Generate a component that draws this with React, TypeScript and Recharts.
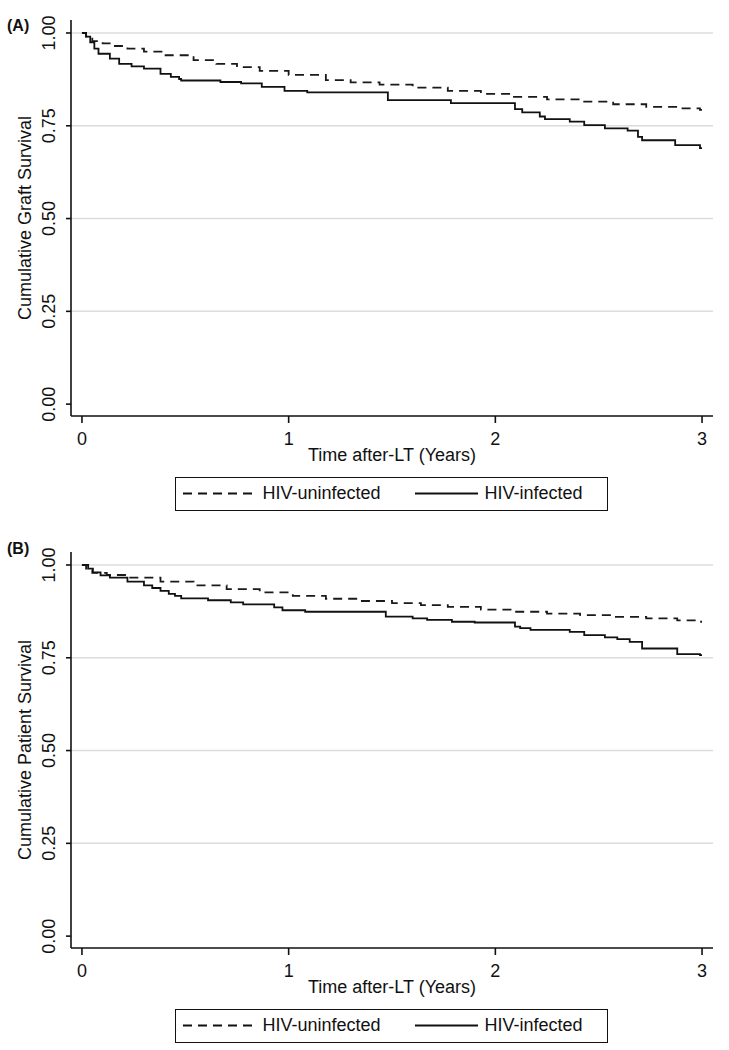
import React from "react";
import { LineChart, Line, XAxis, YAxis, ReferenceLine, Label } from "recharts";

// axis ticks / gridlines
const xTicks = [0, 1, 2, 3];
const yTicks = [0, 0.25, 0.5, 0.75, 1];
const gridValues = [0.25, 0.5, 0.75, 1];
const yTickLabels = ["0.00", "0.25", "0.50", "0.75", "1.00"];

// (A) graft survival, HIV-uninfected (dashed)
const graftUninfT = [0, 0.02, 0.05, 0.1, 0.15, 0.22, 0.3, 0.4, 0.54, 0.65, 0.75, 0.86, 1.0, 1.18, 1.3, 1.44, 1.6, 1.77, 1.93, 2.09, 2.25, 2.41, 2.57, 2.73, 2.88, 2.99, 3.0];
const graftUninfS = [1.0, 0.99, 0.978, 0.972, 0.965, 0.958, 0.95, 0.94, 0.927, 0.917, 0.908, 0.898, 0.887, 0.873, 0.867, 0.861, 0.853, 0.844, 0.836, 0.828, 0.821, 0.815, 0.808, 0.801, 0.797, 0.793, 0.793];

// (A) graft survival, HIV-infected (solid)
const graftInfT = [0, 0.02, 0.04, 0.06, 0.08, 0.135, 0.18, 0.24, 0.3, 0.38, 0.43, 0.47, 0.48, 0.67, 0.77, 0.87, 0.98, 1.09, 1.48, 1.785, 2.095, 2.13, 2.215, 2.24, 2.36, 2.43, 2.53, 2.64, 2.69, 2.71, 2.87, 2.99, 3.0];
const graftInfS = [1.0, 0.99, 0.975, 0.958, 0.944, 0.931, 0.917, 0.91, 0.904, 0.89, 0.882, 0.876, 0.872, 0.868, 0.864, 0.855, 0.844, 0.84, 0.819, 0.811, 0.795, 0.786, 0.775, 0.768, 0.761, 0.752, 0.743, 0.737, 0.72, 0.711, 0.698, 0.69, 0.69];

// (B) patient survival, HIV-uninfected (dashed)
const patientUninfT = [0, 0.02, 0.05, 0.12, 0.22, 0.38, 0.54, 0.7, 0.86, 1.02, 1.18, 1.34, 1.5, 1.64, 1.77, 1.93, 2.09, 2.25, 2.41, 2.57, 2.73, 2.88, 2.99, 3.0];
const patientUninfS = [1.0, 0.99, 0.979, 0.973, 0.966, 0.955, 0.945, 0.935, 0.926, 0.917, 0.909, 0.903, 0.897, 0.892, 0.887, 0.88, 0.874, 0.869, 0.865, 0.86, 0.856, 0.851, 0.847, 0.847];

// (B) patient survival, HIV-infected (solid)
const patientInfT = [0, 0.03, 0.053, 0.09, 0.135, 0.22, 0.3, 0.34, 0.38, 0.42, 0.45, 0.48, 0.61, 0.72, 0.78, 0.93, 0.97, 1.08, 1.47, 1.6, 1.67, 1.79, 1.9, 2.095, 2.12, 2.17, 2.36, 2.43, 2.53, 2.59, 2.65, 2.71, 2.88, 2.99, 3.0];
const patientInfS = [1.0, 0.99, 0.98, 0.972, 0.966, 0.955, 0.945, 0.938, 0.93, 0.922, 0.917, 0.91, 0.905, 0.899, 0.894, 0.886, 0.878, 0.874, 0.861, 0.856, 0.852, 0.847, 0.845, 0.834, 0.83, 0.825, 0.82, 0.811, 0.805, 0.8, 0.793, 0.775, 0.76, 0.757, 0.757];

const zip = (t: number[], s: number[]) => t.map((v, i) => ({ t: v, s: s[i] }));

const FONT = "'Liberation Sans', Arial, Helvetica, sans-serif";
const INK = "#111";
const DASH = "9 6";
const FS = 18;

const XTick = ({ x, y, payload }: any) => (
  <text x={x} y={y + 14} textAnchor="middle" dominantBaseline="central" fontSize={FS} fontFamily={FONT} fill={INK}>
    {payload.value}
  </text>
);

const YTick = ({ x, y, payload }: any) => {
  const cx = x - 15;
  const idx = yTicks.indexOf(payload.value);
  return (
    <text x={cx} y={y} transform={`rotate(-90, ${cx}, ${y})`} textAnchor="middle" dominantBaseline="central" fontSize={FS} fontFamily={FONT} fill={INK}>
      {yTickLabels[idx]}
    </text>
  );
};

interface PanelProps {
  tag: string;
  tagTop: number;
  yTitle: string;
  uninfected: { t: number; s: number }[];
  infected: { t: number; s: number }[];
  height: number;
}

function Panel({ tag, tagTop, yTitle, uninfected, infected, height }: PanelProps) {
  return (
    <div style={{ position: "relative", width: 729, height, overflow: "hidden" }}>
      <LineChart width={729} height={height} margin={{ top: 20, right: 16, bottom: height - 446, left: 31 }}>
        <XAxis
          dataKey="t"
          type="number"
          domain={[-0.053, 3.053]}
          ticks={xTicks}
          allowDataOverflow
          height={30}
          tickSize={7}
          tickMargin={2}
          tick={<XTick />}
          axisLine={{ stroke: INK, strokeWidth: 1.6 }}
          tickLine={{ stroke: INK, strokeWidth: 1.6 }}
        >
          <Label
            content={() => (
              <text x={392} y={455} textAnchor="middle" dominantBaseline="central" fontSize={FS} fontFamily={FONT} fill={INK}>
                Time after-LT (Years)
              </text>
            )}
          />
        </XAxis>
        <YAxis
          type="number"
          domain={[-0.032, 1.035]}
          ticks={yTicks}
          allowDataOverflow
          width={40}
          tickSize={5}
          tickMargin={2}
          tick={<YTick />}
          axisLine={{ stroke: INK, strokeWidth: 1.6 }}
          tickLine={{ stroke: INK, strokeWidth: 1.6 }}
        >
          <Label
            content={() => (
              <text x={25} y={218} transform="rotate(-90, 25, 218)" textAnchor="middle" dominantBaseline="central" fontSize={FS} fontFamily={FONT} fill={INK}>
                {yTitle}
              </text>
            )}
          />
        </YAxis>
        {gridValues.map((v) => (
          <ReferenceLine key={v} y={v} stroke="#dcdcdc" strokeWidth={1.5} />
        ))}
        <Line
          data={uninfected}
          dataKey="s"
          type="stepAfter"
          stroke="#1a1a1a"
          strokeWidth={1.8}
          strokeDasharray={DASH}
          dot={false}
          activeDot={false}
          isAnimationActive={false}
        />
        <Line
          data={infected}
          dataKey="s"
          type="stepAfter"
          stroke="#111"
          strokeWidth={1.8}
          dot={false}
          activeDot={false}
          isAnimationActive={false}
        />
      </LineChart>
      <div style={{ position: "absolute", left: 7, top: tagTop, fontFamily: FONT, fontWeight: "bold", fontSize: 16, lineHeight: "16px", color: INK }}>
        {tag}
      </div>
      <div
        style={{
          position: "absolute",
          left: 175,
          top: 477,
          width: 433,
          height: 34,
          border: `1.5px solid ${INK}`,
          boxSizing: "border-box",
          fontFamily: FONT,
          fontSize: FS,
          color: INK,
          background: "#fff",
        }}
      >
        <svg style={{ position: "absolute", left: 6.5, top: 0 }} width={69} height={31}>
          <line x1={0} y1={15.5} x2={69} y2={15.5} stroke={INK} strokeWidth={1.8} strokeDasharray={DASH} />
        </svg>
        <span style={{ position: "absolute", left: 86.5, top: 0, lineHeight: "31px", whiteSpace: "nowrap" }}>HIV-uninfected</span>
        <svg style={{ position: "absolute", left: 238.5, top: 0 }} width={63} height={31}>
          <line x1={0} y1={15.5} x2={63} y2={15.5} stroke={INK} strokeWidth={1.8} />
        </svg>
        <span style={{ position: "absolute", left: 308.5, top: 0, lineHeight: "31px", whiteSpace: "nowrap" }}>HIV-infected</span>
      </div>
    </div>
  );
}

export default function App() {
  return (
    <div style={{ width: 729, height: 1050, background: "#fff", overflow: "hidden" }}>
      <style>{"body{margin:0;background:#fff}"}</style>
      <Panel
        tag="(A)"
        tagTop={18}
        yTitle="Cumulative Graft Survival"
        uninfected={zip(graftUninfT, graftUninfS)}
        infected={zip(graftInfT, graftInfS)}
        height={532}
      />
      <Panel
        tag="(B)"
        tagTop={9}
        yTitle="Cumulative Patient Survival"
        uninfected={zip(patientUninfT, patientUninfS)}
        infected={zip(patientInfT, patientInfS)}
        height={518}
      />
    </div>
  );
}
